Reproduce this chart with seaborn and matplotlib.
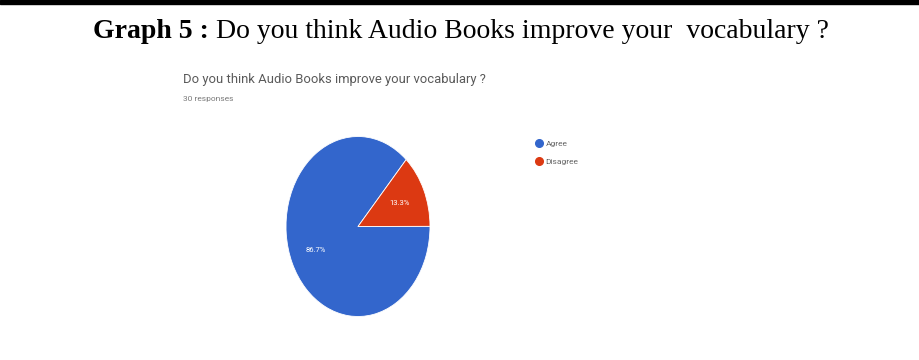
import matplotlib
matplotlib.use("Agg")
import matplotlib.pyplot as plt
from matplotlib.lines import Line2D
import seaborn as sns

categories = ["Agree", "Disagree"]
values = [86.7, 13.3]
colors = ["#3366CC", "#DC3912"]
main_title_bold = "Graph 5 :"
main_title_rest = " Do you think Audio Books improve your  vocabulary ?"
chart_title = "Do you think Audio Books improve your vocabulary ?"
chart_subtitle = "30 responses"

sns.set_theme(style="white")
plt.rcParams["font.family"] = ["DejaVu Sans"]

W, H = 919, 360
fig = plt.figure(figsize=(W / 100, H / 100), dpi=100)
fig.patch.set_facecolor("white")

# top black rule
fig.add_artist(plt.Rectangle((0, 1 - 4 / H), 1, 4 / H, transform=fig.transFigure,
                             color="black", zorder=5))

# main caption
t1 = fig.text(93 / W, 1 - 31 / H, main_title_bold, fontsize=20, fontweight="bold",
              family="Liberation Serif", va="center", ha="left", color="black")
fig.canvas.draw()
bb = t1.get_window_extent()
fig.text(bb.x1 / W, 1 - 31 / H, main_title_rest, fontsize=20,
         family="Liberation Serif", va="center", ha="left", color="black")

# inner chart title
fig.text(183 / W, 1 - 80 / H, chart_title, fontsize=9.4, color="#5a5a5a",
         family="Roboto", va="center", ha="left")
fig.text(183 / W, 1 - 99 / H, chart_subtitle, fontsize=6, color="#7a7a7a",
         family="Roboto", va="center", ha="left")

# pie axes (elliptical)
cx, cy, rx, ry = 358, 226.5, 72, 90
ax = fig.add_axes([(cx - rx) / W, 1 - (cy + ry) / H, 2 * rx / W, 2 * ry / H])
wedges, texts, autotexts = ax.pie(values, colors=colors, startangle=48.0,
                                  counterclock=True, autopct="%.1f%%",
                                  pctdistance=0.64,
                                  wedgeprops=dict(linewidth=0.6, edgecolor="white"),
                                  textprops=dict(color="white", fontsize=5.5,
                                                 family="Roboto"))
ax.set_aspect("auto")
ax.set_xlim(-1, 1)
ax.set_ylim(-1, 1)
ax.axis("off")

# legend
handles = [Line2D([0], [0], marker="o", linestyle="", markersize=5.5,
                  markerfacecolor=c, markeredgecolor=c) for c in colors]
fig.legend(handles, categories, loc="upper left",
           bbox_to_anchor=(531 / W, 1 - 137 / H), frameon=False,
           labelcolor="#666666", handletextpad=0.35,
           labelspacing=1.3, handlelength=1.0, borderaxespad=0,
           prop=dict(family="Roboto", size=6))

fig.savefig("out.png", dpi=100, facecolor="white")
